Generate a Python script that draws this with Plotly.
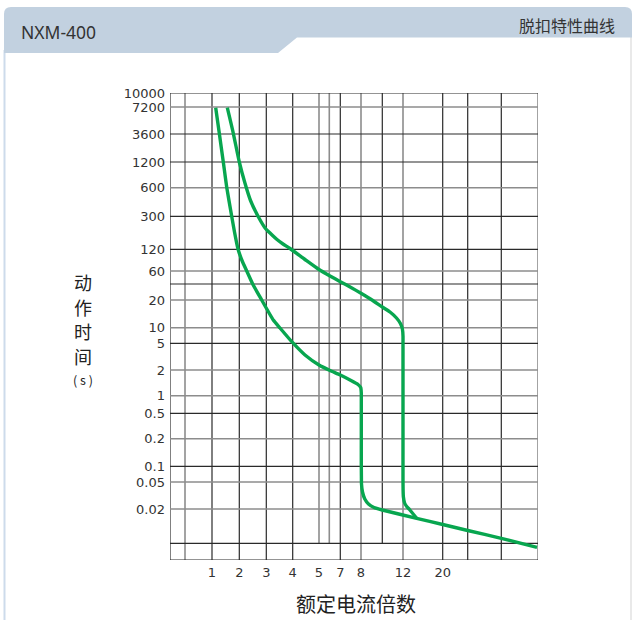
import plotly.graph_objects as go

# ---------------- data (read from the chart's own, irregular grid) ----------------
# horizontal axis: position along the printed grid, labels of the multiple of rated current
x_tick_pos = [42, 69.3, 96.3, 122.7, 149, 170.3, 191, 233, 272.7]
x_tick_text = ["1", "2", "3", "4", "5", "7", "8", "12", "20"]
# vertical axis: position along the printed grid, labels of operating time (s)
y_tick_pos = [467, 453, 426, 398, 372.3, 343.7, 310.7, 289, 260, 232.3, 216.7,
              190, 164.3, 146.7, 121.3, 93.7, 78, 51]
y_tick_text = ["10000", "7200", "3600", "1200", "600", "300", "120", "60", "20", "10", "5",
               "2", "1", "0.5", "0.2", "0.1", "0.05", "0.02"]

# grid lines of the printed chart
vgrid_pos = [0, 15, 42, 69.3, 96.3, 122.7, 149, 159.3, 170.3, 191, 212.3, 233, 272.7, 297.7, 331.3, 368]
vgrid_dark = [1, 0, 1, 1, 1, 1, 0, 0, 1, 0, 1, 0, 1, 1, 1, 0]
vgrid_short = [0, 0, 0, 0, 0, 0, 1, 1, 0, 0, 1, 0, 0, 0, 0, 0]
hgrid_pos = [0, 16.7, 51, 78, 93.7, 121.3, 146.7, 164.3, 190, 216.7, 232.3, 260, 276,
             289, 310.7, 343.7, 372.3, 398, 426, 453, 467]
hgrid_dark = [1, 1, 0, 0, 1, 0, 1, 0, 0, 1, 0, 0, 1, 0, 1, 1, 0, 1, 1, 0, 1]

# lower curve (min. tripping characteristic)
c1_x = [45.7, 49.3, 53.3, 56.8, 61.7, 64.5, 68, 72, 76.5, 82.7, 91.7, 103.3, 110, 122.7,
        135, 149, 160, 170.3, 181, 188, 190.7, 191.3, 191.3, 191.3, 191.3, 191.3, 191.4,
        191.5, 192.5, 194.8, 198.5, 204, 212.3, 246.7, 272.7, 297.7, 331.3, 367]
c1_y = [452.3, 426.7, 398, 372.3, 343.7, 328, 311, 299.5, 289.5, 276, 260, 240, 232,
        217.3, 205, 195, 189.5, 185, 179.5, 175.5, 172.5, 167, 160, 145, 120, 95, 84,
        76, 68, 61, 56, 52.5, 50, 41.7, 35.5, 29.5, 21.7, 12.7]
# upper curve (max. tripping characteristic)
c2_x = [57.3, 63.3, 69.3, 75, 80.5, 88.3, 95.5, 101, 107, 113, 120, 135, 149, 160, 170.3,
        181, 191, 202, 212.3, 220, 226.5, 230.4, 232.4, 233, 233, 233, 233, 233, 233.1,
        233.4, 234.6, 236.7, 239.5, 246.7]
c2_y = [452.3, 426.7, 398, 376.7, 359.5, 343.3, 331.5, 326, 320.5, 316, 311.5, 300.5,
        290.5, 284, 278.3, 272.5, 266.7, 260, 253, 248, 242, 236.5, 231, 224, 214, 200,
        120, 80, 70, 63, 57, 53.5, 50.5, 41.7]

# ---------------- figure ----------------
W, H = 632, 620
ML, MR, MT, MB = 170, 94, 93, 60
PW, PH = W - ML - MR, H - MT - MB
GREEN = "#08a64f"
DARK = "#2a2a2a"
GRAY = "#8c8c8c"


def px(xp):
    return (xp - ML) / PW


def py(yp):
    return (H - MB - yp) / PH


fig = go.Figure()
for cx, cy in ((c1_x, c1_y), (c2_x, c2_y)):
    fig.add_trace(go.Scatter(x=cx, y=cy, mode="lines",
                             line=dict(color=GREEN, width=3.4, shape="spline", smoothing=0.5),
                             hoverinfo="skip", showlegend=False))

shapes = []
# page frame and header band
shapes.append(dict(type="line", xref="paper", yref="paper", x0=px(4.5), x1=px(4.5),
                   y0=py(50), y1=py(620), line=dict(color="#cddbeb", width=2), layer="below"))
shapes.append(dict(type="line", xref="paper", yref="paper", x0=px(631), x1=px(631),
                   y0=py(36), y1=py(620), line=dict(color="#e2e2e2", width=1.5), layer="below"))
band = (f"M {px(4)},{py(53)} L {px(4)},{py(14)} Q {px(4)},{py(7)} {px(11)},{py(7)} "
        f"L {px(625)},{py(7)} Q {px(632)},{py(7)} {px(632)},{py(14)} L {px(632)},{py(37.5)} "
        f"L {px(297)},{py(37.5)} L {px(278)},{py(53)} Z")
shapes.append(dict(type="path", xref="paper", yref="paper", path=band,
                   fillcolor="#c2d1e0", line=dict(width=0), layer="below"))

# grid
for pos, dark, short in zip(vgrid_pos, vgrid_dark, vgrid_short):
    shapes.append(dict(type="line", xref="x", yref="y", x0=pos, x1=pos,
                       y0=hgrid_pos[1] if short else 0, y1=467,
                       line=dict(color=DARK if dark else GRAY, width=1.2 if dark else 1.6),
                       layer="below"))
for pos, dark in zip(hgrid_pos, hgrid_dark):
    shapes.append(dict(type="line", xref="x", yref="y", x0=0, x1=368, y0=pos, y1=pos,
                       line=dict(color=DARK if dark else GRAY, width=1.2 if dark else 1.6),
                       layer="below"))

annotations = [
    dict(text="NXM-400", xref="paper", yref="paper", x=px(19), y=py(32), xanchor="left",
         yanchor="middle", showarrow=False,
         font=dict(family="Noto Sans, Open Sans, sans-serif", size=17.5, color="#333333")),
    dict(text="脱扣特性曲线", xref="paper", yref="paper", x=px(617), y=py(25), xanchor="right",
         yanchor="middle", showarrow=False,
         font=dict(family="Noto Sans CJK SC", size=16, color="#333333")),
    dict(text="额定电流倍数", xref="paper", yref="paper", x=px(356), y=py(603), xanchor="center",
         yanchor="middle", showarrow=False,
         font=dict(family="Noto Sans CJK SC", size=20, color="#222222")),
]
for i, ch in enumerate(["动", "作", "时", "间"]):
    annotations.append(dict(text=ch, xref="paper", yref="paper", x=px(82.5), y=py(282 + 24.7 * i),
                            xanchor="center", yanchor="middle", showarrow=False,
                            font=dict(family="Noto Sans CJK SC", size=18, color="#222222")))
annotations.append(dict(text="( s )", xref="paper", yref="paper", x=px(82.5), y=py(379),
                        xanchor="center", yanchor="middle", showarrow=False,
                        font=dict(family="Noto Sans CJK SC", size=12.5, color="#222222")))

fig.update_layout(
    width=W, height=H,
    margin=dict(l=ML, r=MR, t=MT, b=MB, pad=0),
    paper_bgcolor="white", plot_bgcolor="white",
    shapes=shapes, annotations=annotations,
    xaxis=dict(range=[0, 368], showgrid=False, zeroline=False, showline=False,
               tickmode="array", tickvals=x_tick_pos, ticktext=x_tick_text,
               ticks="", ticklen=0, ticklabelstandoff=3,
               tickfont=dict(family="DejaVu Sans", size=13, color="#333333"),
               fixedrange=True),
    yaxis=dict(range=[0, 467], showgrid=False, zeroline=False, showline=False,
               tickmode="array", tickvals=y_tick_pos, ticktext=y_tick_text,
               ticks="", ticklen=0, ticklabelstandoff=4,
               tickfont=dict(family="DejaVu Sans", size=13, color="#333333"),
               fixedrange=True),
)

fig.write_html("out.html", config={"displayModeBar": False},
               post_script="document.body.style.margin='0';document.body.style.overflow='hidden';")
